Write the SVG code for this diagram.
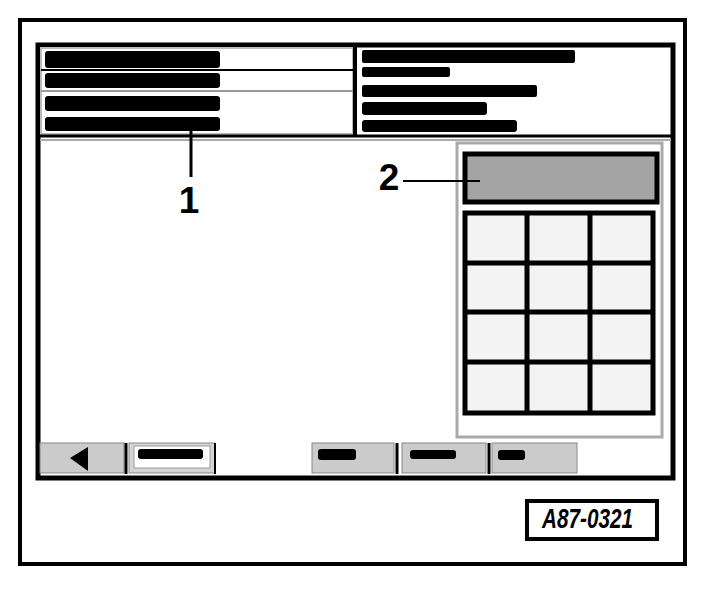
<svg xmlns="http://www.w3.org/2000/svg" width="704" height="592" viewBox="0 0 704 592">
<style>
.bar{fill:#000}
.btn{fill:#cbcbcb;stroke:#888;stroke-width:1}
.cell{fill:#f3f3f3}
.num{font-family:"Liberation Sans",Arial,sans-serif;font-weight:bold;fill:#000}
</style>
<rect width="704" height="592" fill="#fff"/>
<g id="frame">
<rect x="20" y="20" width="665" height="544" fill="#fff" stroke="#000" stroke-width="4"/>
</g>
<g id="screen">
<rect x="38" y="45" width="635" height="433" fill="#fff" stroke="#000" stroke-width="5"/>
</g>
<g id="header">
<rect x="41" y="48" width="312" height="86" fill="none" stroke="#bbb" stroke-width="2"/>
<line x1="41" y1="70" x2="353" y2="70" stroke="#000" stroke-width="2"/>
<line x1="41" y1="91" x2="353" y2="91" stroke="#999" stroke-width="2"/>
<line x1="355" y1="45" x2="355" y2="136" stroke="#000" stroke-width="4"/>
<line x1="38" y1="136" x2="673" y2="136" stroke="#000" stroke-width="3"/>
<line x1="40" y1="140" x2="671" y2="140" stroke="#aaa" stroke-width="2"/>
<rect class="bar" x="45" y="51" width="175" height="17" rx="3"/>
<rect class="bar" x="45" y="73" width="175" height="15" rx="3"/>
<rect class="bar" x="45" y="96" width="175" height="15" rx="3"/>
<rect class="bar" x="45" y="117" width="175" height="14" rx="3"/>
<rect class="bar" x="362" y="50" width="213" height="13" rx="2"/>
<rect class="bar" x="362" y="67" width="88" height="10" rx="2"/>
<rect class="bar" x="362" y="85" width="175" height="12" rx="2"/>
<rect class="bar" x="362" y="102" width="125" height="13" rx="3"/>
<rect class="bar" x="362" y="120" width="155" height="12" rx="3"/>
</g>
<g id="keypad">
<rect x="457" y="143" width="205" height="294" fill="#fff" stroke="#aaa" stroke-width="3"/>
<rect id="display" x="465" y="154" width="192" height="48" fill="#a4a4a4" stroke="#000" stroke-width="5"/>
<rect x="465" y="213" width="188" height="200" class="cell" stroke="#000" stroke-width="5"/>
<line x1="527" y1="213" x2="527" y2="413" stroke="#000" stroke-width="5"/>
<line x1="590" y1="213" x2="590" y2="413" stroke="#000" stroke-width="5"/>
<line x1="465" y1="263" x2="653" y2="263" stroke="#000" stroke-width="5"/>
<line x1="465" y1="312" x2="653" y2="312" stroke="#000" stroke-width="5"/>
<line x1="465" y1="362" x2="653" y2="362" stroke="#000" stroke-width="5"/>
</g>
<g id="buttons">
<rect class="btn" x="40" y="443" width="84" height="30"/>
<polygon points="70,458 88,447 88,471" fill="#000"/>
<line x1="126" y1="443" x2="126" y2="474" stroke="#000" stroke-width="3"/>
<rect x="129" y="443" width="86" height="30" fill="#d4d4d4" stroke="#888" stroke-width="1"/>
<rect x="134" y="446" width="76" height="22" fill="#fff" stroke="#999" stroke-width="1"/>
<rect class="bar" x="138" y="449" width="65" height="10" rx="3"/>
<line x1="215" y1="443" x2="215" y2="474" stroke="#000" stroke-width="2"/>
<rect class="btn" x="312" y="443" width="82" height="30"/>
<rect class="bar" x="318" y="449" width="38" height="11" rx="3"/>
<line x1="397" y1="443" x2="397" y2="474" stroke="#000" stroke-width="3"/>
<rect class="btn" x="402" y="443" width="84" height="30"/>
<rect class="bar" x="410" y="450" width="46" height="9" rx="3"/>
<line x1="489" y1="443" x2="489" y2="474" stroke="#000" stroke-width="3"/>
<rect class="btn" x="492" y="443" width="85" height="30"/>
<rect class="bar" x="498" y="450" width="27" height="10" rx="3"/>
</g>
<g id="connectors">
<line x1="191" y1="129" x2="191" y2="177" stroke="#000" stroke-width="3"/>
<line x1="403" y1="181" x2="480" y2="181" stroke="#000" stroke-width="2"/>
</g>
<g id="label1"><text class="num" x="189" y="213" font-size="37" text-anchor="middle">1</text></g>
<g id="label2"><text class="num" x="389" y="190" font-size="37" text-anchor="middle">2</text></g>
<g id="code">
<rect x="527" y="501" width="130" height="38" fill="#fff" stroke="#000" stroke-width="4"/>
<text class="num" x="542" y="528" font-size="27" textLength="91" lengthAdjust="spacingAndGlyphs" font-style="italic">A87-0321</text>
</g>
</svg>
